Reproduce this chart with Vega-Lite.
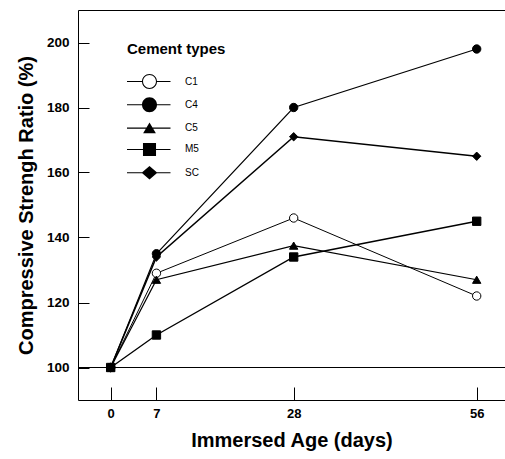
{
  "$schema": "https://vega.github.io/schema/vega-lite/v6.json",
  "width": 427,
  "height": 390,
  "autosize": {"type": "none"},
  "padding": {"left": 78, "top": 10, "right": 0, "bottom": 59},
  "background": "white",
  "config": {
    "view": {"stroke": null},
    "axis": {
      "grid": false,
      "domainColor": "black",
      "domainWidth": 1,
      "tickColor": "black",
      "tickWidth": 1,
      "labelColor": "black",
      "titleColor": "black",
      "labelFont": "Liberation Sans",
      "titleFont": "Liberation Sans",
      "labelFontWeight": "bold",
      "titleFontWeight": "bold"
    }
  },
  "data": {
    "values": [
      {"type": "C1", "day": 0, "ratio": 100},
      {"type": "C1", "day": 7, "ratio": 129},
      {"type": "C1", "day": 28, "ratio": 146},
      {"type": "C1", "day": 56, "ratio": 122},
      {"type": "C4", "day": 0, "ratio": 100},
      {"type": "C4", "day": 7, "ratio": 135},
      {"type": "C4", "day": 28, "ratio": 180},
      {"type": "C4", "day": 56, "ratio": 198},
      {"type": "C5", "day": 0, "ratio": 100},
      {"type": "C5", "day": 7, "ratio": 127},
      {"type": "C5", "day": 28, "ratio": 137.5},
      {"type": "C5", "day": 56, "ratio": 127},
      {"type": "M5", "day": 0, "ratio": 100},
      {"type": "M5", "day": 7, "ratio": 110},
      {"type": "M5", "day": 28, "ratio": 134},
      {"type": "M5", "day": 56, "ratio": 145},
      {"type": "SC", "day": 0, "ratio": 100},
      {"type": "SC", "day": 7, "ratio": 134},
      {"type": "SC", "day": 28, "ratio": 171},
      {"type": "SC", "day": 56, "ratio": 165}
    ]
  },
  "layer": [
    {
      "mark": {"type": "rule", "color": "black", "strokeWidth": 1},
      "encoding": {"y": {"datum": 100, "type": "quantitative"}}
    },
    {
      "mark": {"type": "line", "color": "black"},
      "encoding": {
        "x": {
          "field": "day",
          "type": "quantitative",
          "scale": {"domain": [-5, 60.33], "nice": false, "zero": false},
          "axis": {
            "orient": "bottom",
            "values": [0, 7, 28, 56],
            "tickSize": -13,
            "labelPadding": 20,
            "labelFontSize": 13,
            "title": "Immersed Age (days)",
            "titleFontSize": 20,
            "titlePadding": 10
          }
        },
        "y": {
          "field": "ratio",
          "type": "quantitative",
          "scale": {"domain": [90, 210], "nice": false, "zero": false},
          "axis": {
            "orient": "left",
            "values": [100, 120, 140, 160, 180, 200],
            "tickSize": -11,
            "labelPadding": 20,
            "labelFontSize": 13.5,
            "title": "Compressive Strengh Ratio (%)",
            "titleFontSize": 20,
            "titlePadding": 10
          }
        },
        "detail": {"field": "type"},
        "strokeWidth": {
          "field": "type",
          "type": "nominal",
          "scale": {"domain": ["C1", "C4", "C5", "M5", "SC"], "range": [1, 1.5, 1, 1.2, 1.5]},
          "legend": null
        }
      }
    },
    {
      "mark": {"type": "point", "stroke": "black", "strokeWidth": 1, "size": 70, "opacity": 1},
      "encoding": {
        "x": {
          "field": "day",
          "type": "quantitative",
          "axis": {"orient": "top", "labels": false, "ticks": false, "title": null, "domain": true}
        },
        "y": {"field": "ratio", "type": "quantitative"},
        "shape": {
          "field": "type",
          "type": "nominal",
          "scale": {"domain": ["C1", "C4", "C5", "M5", "SC"], "range": ["circle", "circle", "triangle-up", "square", "diamond"]},
          "legend": null
        },
        "fill": {
          "field": "type",
          "type": "nominal",
          "scale": {"domain": ["C1", "C4", "C5", "M5", "SC"], "range": ["white", "black", "black", "black", "black"]},
          "legend": null
        }
      }
    },
    {
      "mark": {"type": "point", "filled": true, "color": "black", "opacity": 0},
      "encoding": {
        "x": {"field": "day", "type": "quantitative", "axis": null},
        "y": {"field": "ratio", "type": "quantitative"},
        "shape": {
          "field": "type",
          "type": "nominal",
          "scale": {
            "domain": ["C1", "C4", "C5", "M5", "SC"],
            "range": [
              "M-1,-0.07H1.02V0.07H-1ZM2.98,-0.07H4.8V0.07H2.98ZM1,0A1,1,0,1,1,3,0A1,1,0,1,1,1,0ZM1.14,0A0.86,0.86,0,1,0,2.86,0A0.86,0.86,0,1,0,1.14,0Z",
              "M-1,-0.07H4.8V0.07H-1ZM1,0A1,1,0,1,1,3,0A1,1,0,1,1,1,0Z",
              "M-1,-0.07H4.8V0.07H-1ZM2,-0.75L2.85,0.7H1.15Z",
              "M-1,-0.07H4.8V0.07H-1ZM1.13,-0.87H2.87V0.87H1.13Z",
              "M-1,-0.07H4.8V0.07H-1ZM2,-0.9L3.05,0L2,0.9L0.95,0Z"
            ]
          },
          "legend": {
            "title": "Cement types",
            "orient": "none",
            "legendX": 49,
            "legendY": 32,
            "padding": 0,
            "symbolSize": 225,
            "symbolStrokeWidth": 0,
            "symbolFillColor": "black",
            "symbolOpacity": 1,
            "labelOffset": 43,
            "rowPadding": 8.3,
            "titlePadding": 17,
            "titleFont": "Liberation Sans",
            "titleFontSize": 15,
            "titleFontWeight": "bold",
            "titleColor": "black",
            "labelFont": "Liberation Sans",
            "labelFontSize": 10,
            "labelColor": "black"
          }
        }
      }
    }
  ],
  "resolve": {"scale": {"shape": "independent", "fill": "independent"}}
}
